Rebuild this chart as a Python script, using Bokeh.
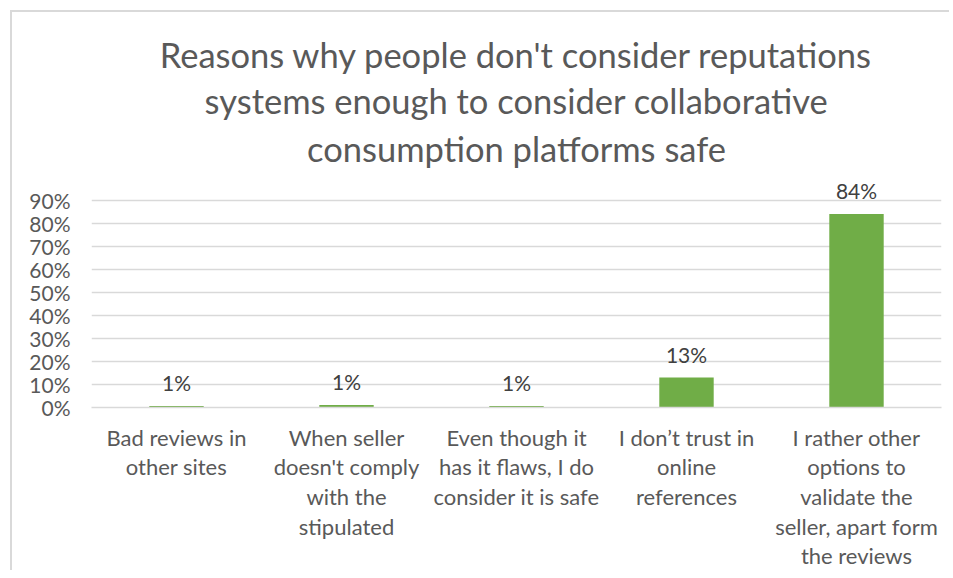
from bokeh.plotting import figure
from bokeh.models import (ColumnDataSource, FixedTicker, Title,
                          LabelSet, NumeralTickFormatter, Range1d)
from bokeh.core.properties import value
from bokeh.embed import file_html
from bokeh.resources import INLINE

title_lines = ["Reasons why people don't consider reputations",
               "systems enough to consider collaborative",
               "consumption platforms safe"]
categories = ["Bad reviews in\nother sites",
              "When seller\ndoesn't comply\nwith the\nstipulated",
              "Even though it\nhas it flaws, I do\nconsider it is safe",
              "I don\u2019t trust in\nonline\nreferences",
              "I rather other\noptions to\nvalidate the\nseller, apart form\nthe reviews"]
values = [0.007, 0.011, 0.007, 0.13, 0.84]
y_ticks = [0.0, 0.1, 0.2, 0.3, 0.4, 0.5, 0.6, 0.7, 0.8, 0.9]

FONT = "Lato"
GREY = "#595959"

xs = list(range(len(categories)))
src = ColumnDataSource(dict(x=xs, v=values,
                            lbl=[f"{round(v*100)}%" for v in values]))

p = figure(width=939, height=560, output_backend="svg", toolbar_location=None,
           x_range=Range1d(-0.5, len(categories) - 0.5), y_range=Range1d(0, 1.02),
           min_border_left=79, min_border_right=10, min_border_bottom=163,
           min_border_top=160)
p.outline_line_color = None
p.styles = {"margin-left": "10px", "margin-top": "10px",
            "border-left": "2px solid #D9D9D9", "border-top": "2px solid #D9D9D9"}

p.vbar(x="x", top="v", width=0.32, source=src, fill_color="#70AD47",
       line_color=None)

p.add_layout(LabelSet(x="x", y="v", text="lbl", source=src, y_offset=11,
                      text_align="center", text_baseline="bottom",
                      text_font=value(FONT), text_font_size="21px",
                      text_color="#404040"))

# x axis
xa = p.xaxis[0]
xa.ticker = FixedTicker(ticks=xs)
xa.major_label_overrides = {i: c for i, c in enumerate(categories)}
xa.major_label_text_font = FONT
xa.major_label_text_font_size = "22px"
xa.major_label_text_line_height = 1.1
xa.major_label_text_color = GREY
xa.major_label_standoff = 10
xa.major_tick_line_color = None
xa.minor_tick_line_color = None
xa.axis_line_color = "#D9D9D9"
xa.axis_line_width = 1.5

# y axis
ya = p.yaxis[0]
ya.ticker = FixedTicker(ticks=y_ticks)
ya.formatter = NumeralTickFormatter(format="0%")
ya.major_label_text_font = FONT
ya.major_label_text_font_size = "21px"
ya.major_label_text_color = GREY
ya.axis_line_color = None
ya.major_tick_line_color = None
ya.minor_tick_line_color = None
ya.major_label_standoff = 15

p.xgrid.grid_line_color = None
p.ygrid.grid_line_color = "#D9D9D9"
p.ygrid.grid_line_width = 1.5
p.ygrid.ticker = FixedTicker(ticks=y_ticks)

for i, t in enumerate(reversed(title_lines)):
    p.add_layout(Title(text=t, align="center", text_font=FONT,
                       text_font_size="34.5px", text_font_style="normal",
                       text_color=GREY, standoff=7 if i == 0 else 3), "above")

open("out.html", "w").write(file_html(p, INLINE))
